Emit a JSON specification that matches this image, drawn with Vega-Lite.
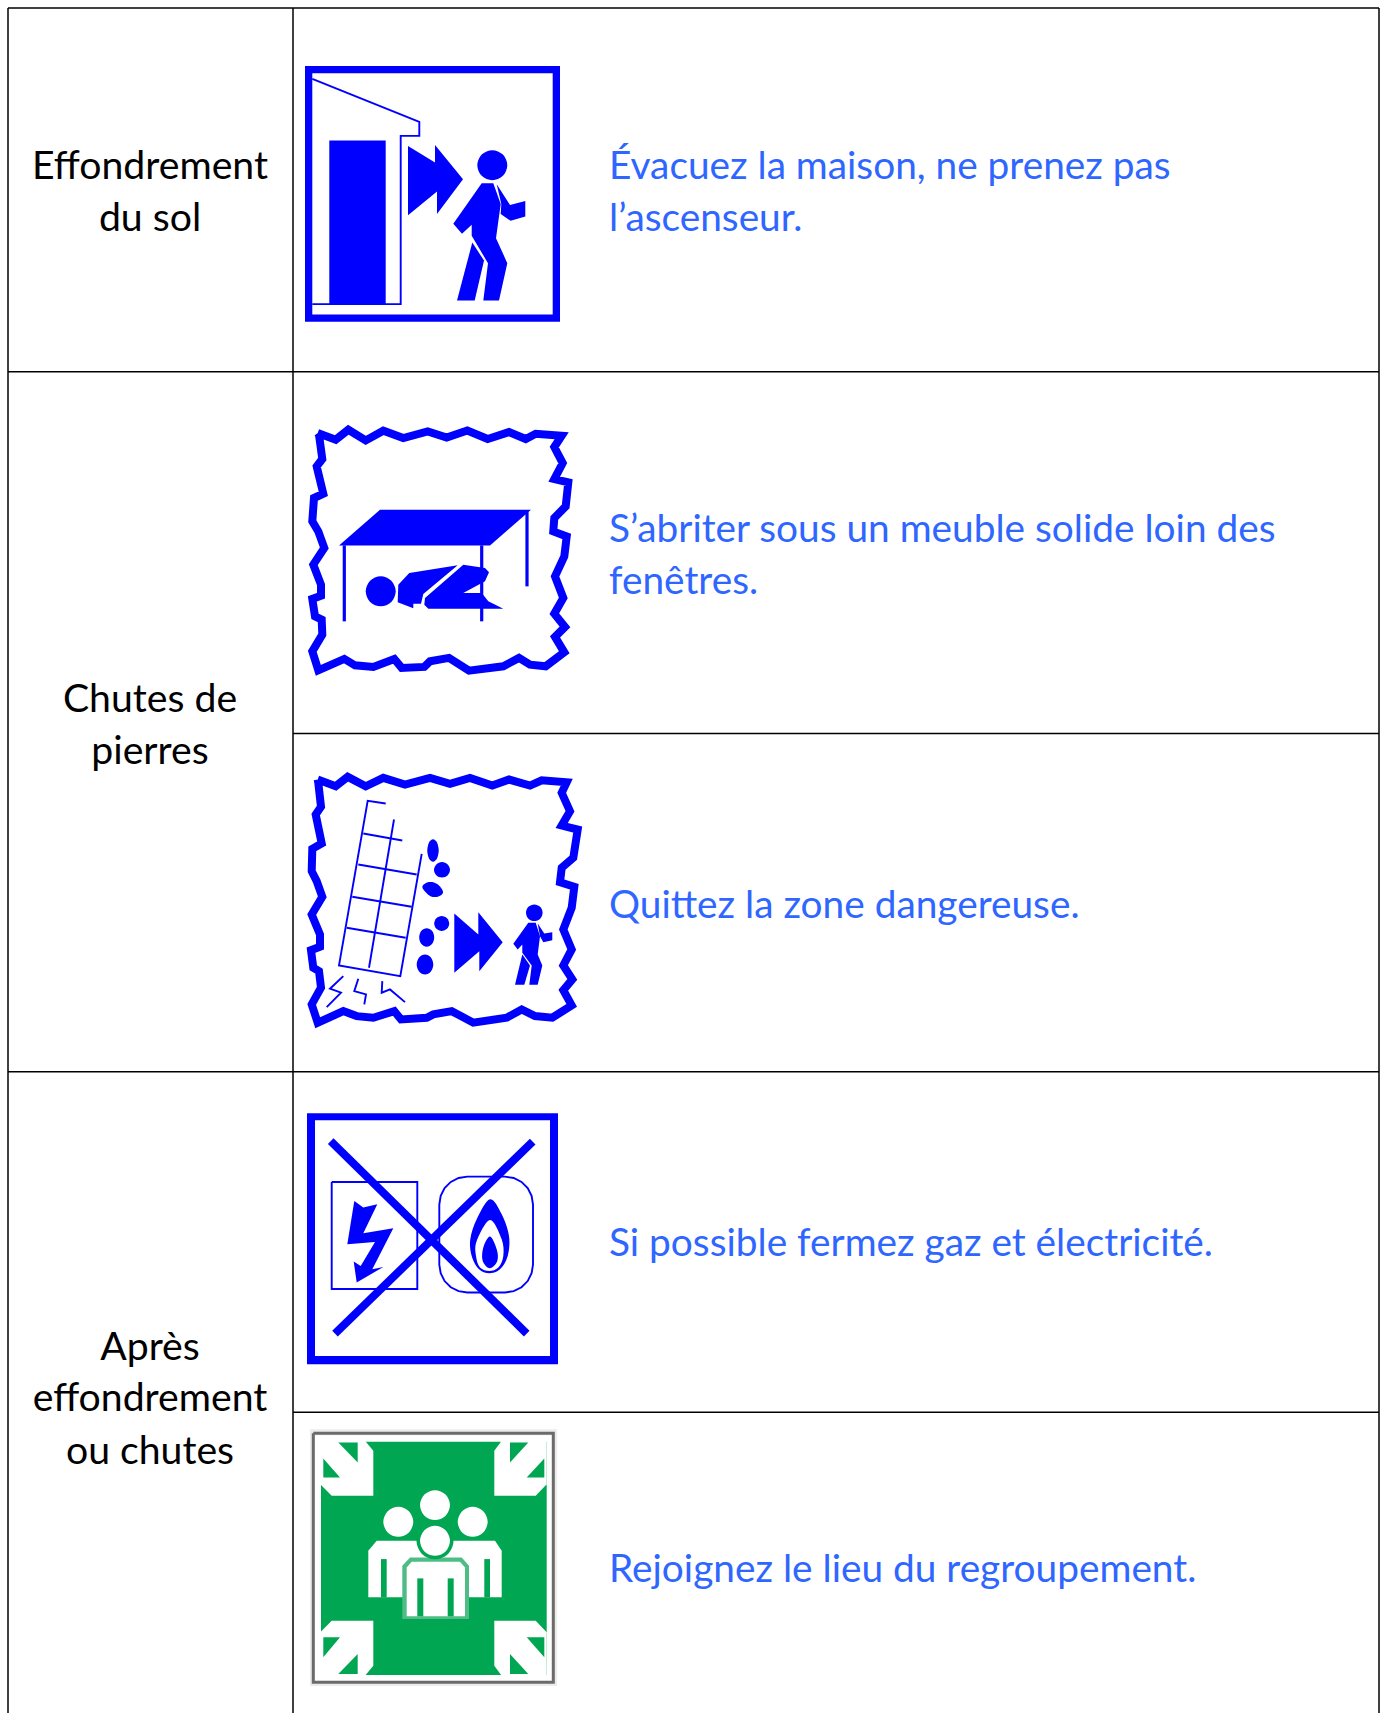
{
"$schema":"https://vega.github.io/schema/vega-lite/v6.json",
"width":1383,"height":1714,"autosize":{"type":"fit","contains":"padding"},"padding":0,
"background":"white","config":{"view":{"stroke":null}},
"datasets":{
"grid":[
{"x":8,"x2":1379,"y":8,"y2":8},{"x":8,"x2":1379,"y":372,"y2":372},{"x":293,"x2":1379,"y":734,"y2":734},{"x":8,"x2":1379,"y":1072.5,"y2":1072.5},{"x":293,"x2":1379,"y":1413,"y2":1413},
{"x":8,"x2":8,"y":8,"y2":1714},{"x":293,"x2":293,"y":8,"y2":1714},{"x":1379,"x2":1379,"y":8,"y2":1714}],
"hazards":[
{"t":"Effondrement","x":150,"y":165},{"t":"du sol","x":150,"y":217},
{"t":"Chutes de","x":150,"y":698},{"t":"pierres","x":150,"y":750},
{"t":"Après","x":150,"y":1347},{"t":"effondrement","x":150,"y":1398},{"t":"ou chutes","x":150,"y":1451}],
"actions":[
{"t":"Évacuez la maison, ne prenez pas","x":609,"y":165},{"t":"l’ascenseur.","x":609,"y":217},
{"t":"S’abriter sous un meuble solide loin des","x":609,"y":528},{"t":"fenêtres.","x":609,"y":580},
{"t":"Quittez la zone dangereuse.","x":609,"y":904},
{"t":"Si possible fermez gaz et électricité.","x":609,"y":1243},
{"t":"Rejoignez le lieu du regroupement.","x":609,"y":1569}],
"fills":[
{"s":"f1o","c":"ink","x":305,"y":66},{"s":"f1o","c":"ink","x":560,"y":66},{"s":"f1o","c":"ink","x":560,"y":322},{"s":"f1o","c":"ink","x":305,"y":322},
{"s":"f1i","c":"paper","x":312.3,"y":73.3},{"s":"f1i","c":"paper","x":552.7,"y":73.3},{"s":"f1i","c":"paper","x":552.7,"y":314.7},{"s":"f1i","c":"paper","x":312.3,"y":314.7},
{"s":"door","c":"ink","x":329.3,"y":140.7},{"s":"door","c":"ink","x":385.7,"y":140.7},{"s":"door","c":"ink","x":385.7,"y":304.3},{"s":"door","c":"ink","x":329.3,"y":304.3},
{"s":"arr1","c":"ink","x":408,"y":146},{"s":"arr1","c":"ink","x":435,"y":162.7},{"s":"arr1","c":"ink","x":435,"y":145},{"s":"arr1","c":"ink","x":463,"y":179.3},{"s":"arr1","c":"ink","x":437,"y":214},{"s":"arr1","c":"ink","x":437,"y":191.7},{"s":"arr1","c":"ink","x":408,"y":215.3},
{"s":"body1","c":"ink","x":481.7,"y":183.3},{"s":"body1","c":"ink","x":493.3,"y":183.3},{"s":"body1","c":"ink","x":500.7,"y":204},{"s":"body1","c":"ink","x":496,"y":238.3},{"s":"body1","c":"ink","x":507.3,"y":263.3},{"s":"body1","c":"ink","x":499,"y":300.7},{"s":"body1","c":"ink","x":483.3,"y":300.7},{"s":"body1","c":"ink","x":488,"y":263.3},{"s":"body1","c":"ink","x":471.7,"y":236},{"s":"body1","c":"ink","x":471.7,"y":225},{"s":"body1","c":"ink","x":462,"y":234},{"s":"body1","c":"ink","x":453.3,"y":224},
{"s":"leg1","c":"ink","x":472.3,"y":242.7},{"s":"leg1","c":"ink","x":484,"y":260.7},{"s":"leg1","c":"ink","x":474.7,"y":300.7},{"s":"leg1","c":"ink","x":457,"y":300.7},
{"s":"arm1","c":"ink","x":496.7,"y":184.3},{"s":"arm1","c":"ink","x":510,"y":205},{"s":"arm1","c":"ink","x":525.3,"y":201},{"s":"arm1","c":"ink","x":525.3,"y":216.7},{"s":"arm1","c":"ink","x":510.7,"y":221},{"s":"arm1","c":"ink","x":500.7,"y":214},{"s":"arm1","c":"ink","x":501.3,"y":204},
{"s":"table","c":"ink","x":380,"y":510},{"s":"table","c":"ink","x":531,"y":510},{"s":"table","c":"ink","x":490,"y":545.7},{"s":"table","c":"ink","x":339,"y":545.7},
{"s":"up2","c":"ink","x":409.3,"y":573.3},{"s":"up2","c":"ink","x":457.7,"y":565.7},{"s":"up2","c":"ink","x":423.3,"y":594.3},{"s":"up2","c":"ink","x":421,"y":604},{"s":"up2","c":"ink","x":413.3,"y":604},{"s":"up2","c":"ink","x":413.3,"y":608.7},{"s":"up2","c":"ink","x":397.7,"y":602.7},{"s":"up2","c":"ink","x":398.3,"y":585},
{"s":"lo2","c":"ink","x":463.3,"y":565},{"s":"lo2","c":"ink","x":485,"y":568.3},{"s":"lo2","c":"ink","x":489,"y":572.7},{"s":"lo2","c":"ink","x":485,"y":581.7},{"s":"lo2","c":"ink","x":463.3,"y":593.3},{"s":"lo2","c":"ink","x":481.7,"y":593.3},{"s":"lo2","c":"ink","x":488.3,"y":601.7},{"s":"lo2","c":"ink","x":503.3,"y":609},{"s":"lo2","c":"ink","x":428.3,"y":609},{"s":"lo2","c":"ink","x":424.3,"y":605},{"s":"lo2","c":"ink","x":425,"y":598.3},
{"s":"arr3","c":"ink","x":454.3,"y":914},{"s":"arr3","c":"ink","x":478.3,"y":935},{"s":"arr3","c":"ink","x":478.3,"y":912.7},{"s":"arr3","c":"ink","x":502.7,"y":942.7},{"s":"arr3","c":"ink","x":479.3,"y":971.7},{"s":"arr3","c":"ink","x":479.3,"y":951.7},{"s":"arr3","c":"ink","x":454.3,"y":973.3},
{"s":"body3","c":"ink","x":528.3,"y":923.3},{"s":"body3","c":"ink","x":535.7,"y":923.3},{"s":"body3","c":"ink","x":540,"y":936.7},{"s":"body3","c":"ink","x":537.7,"y":955},{"s":"body3","c":"ink","x":542.3,"y":966},{"s":"body3","c":"ink","x":537.7,"y":985.3},{"s":"body3","c":"ink","x":529.3,"y":985.3},{"s":"body3","c":"ink","x":531.7,"y":966},{"s":"body3","c":"ink","x":522.3,"y":953.3},{"s":"body3","c":"ink","x":522.3,"y":945},{"s":"body3","c":"ink","x":517.7,"y":950},{"s":"body3","c":"ink","x":513.3,"y":944.3},
{"s":"leg3","c":"ink","x":522.3,"y":955},{"s":"leg3","c":"ink","x":530,"y":966},{"s":"leg3","c":"ink","x":524.3,"y":985.3},{"s":"leg3","c":"ink","x":515,"y":985.3},
{"s":"arm3","c":"ink","x":537.7,"y":924},{"s":"arm3","c":"ink","x":544.3,"y":934},{"s":"arm3","c":"ink","x":552.3,"y":932.7},{"s":"arm3","c":"ink","x":552.3,"y":940.7},{"s":"arm3","c":"ink","x":543.3,"y":942.7},{"s":"arm3","c":"ink","x":540,"y":936.7},
{"s":"f4o","c":"ink","x":307,"y":1114},{"s":"f4o","c":"ink","x":558,"y":1114},{"s":"f4o","c":"ink","x":558,"y":1365},{"s":"f4o","c":"ink","x":307,"y":1365},
{"s":"f4i","c":"paper","x":315,"y":1121},{"s":"f4i","c":"paper","x":550,"y":1121},{"s":"f4i","c":"paper","x":550,"y":1356.7},{"s":"f4i","c":"paper","x":315,"y":1356.7},
{"s":"bolt","c":"ink","x":354.3,"y":1201.7},{"s":"bolt","c":"ink","x":363.3,"y":1208.3},{"s":"bolt","c":"ink","x":377.3,"y":1205},{"s":"bolt","c":"ink","x":363.3,"y":1234},{"s":"bolt","c":"ink","x":393.3,"y":1229},{"s":"bolt","c":"ink","x":372.3,"y":1270},{"s":"bolt","c":"ink","x":383.3,"y":1267.7},{"s":"bolt","c":"ink","x":356.7,"y":1283.3},{"s":"bolt","c":"ink","x":353.7,"y":1262.3},{"s":"bolt","c":"ink","x":360.7,"y":1266.7},{"s":"bolt","c":"ink","x":375,"y":1242.7},{"s":"bolt","c":"ink","x":347.3,"y":1245},
{"s":"halo","c":"halo","x":310,"y":1430},{"s":"halo","c":"halo","x":557,"y":1430},{"s":"halo","c":"halo","x":557,"y":1687},{"s":"halo","c":"halo","x":310,"y":1687},
{"s":"pad","c":"paper","x":315,"y":1436},{"s":"pad","c":"paper","x":552,"y":1436},{"s":"pad","c":"paper","x":552,"y":1682},{"s":"pad","c":"paper","x":315,"y":1682},
{"s":"green","c":"sign","x":321,"y":1442.7},{"s":"green","c":"sign","x":546.7,"y":1442.7},{"s":"green","c":"sign","x":546.7,"y":1676},{"s":"green","c":"sign","x":321,"y":1676},
{"s":"tl","c":"paper","x":320,"y":1441.7},{"s":"tl","c":"paper","x":365,"y":1441.7},{"s":"tl","c":"paper","x":373.3,"y":1451.7},{"s":"tl","c":"paper","x":373.3,"y":1496.7},{"s":"tl","c":"paper","x":331.7,"y":1496.7},{"s":"tl","c":"paper","x":320.3,"y":1485},
{"s":"tr","c":"paper","x":546.7,"y":1441.7},{"s":"tr","c":"paper","x":501.7,"y":1441.7},{"s":"tr","c":"paper","x":494.3,"y":1451.7},{"s":"tr","c":"paper","x":494.3,"y":1496.7},{"s":"tr","c":"paper","x":535.7,"y":1496.7},{"s":"tr","c":"paper","x":546.7,"y":1485},
{"s":"bl","c":"paper","x":320,"y":1676.7},{"s":"bl","c":"paper","x":365,"y":1676.7},{"s":"bl","c":"paper","x":373.3,"y":1666.7},{"s":"bl","c":"paper","x":373.3,"y":1621.7},{"s":"bl","c":"paper","x":331.7,"y":1621.7},{"s":"bl","c":"paper","x":320.3,"y":1633.3},
{"s":"br","c":"paper","x":546.7,"y":1676.7},{"s":"br","c":"paper","x":501.7,"y":1676.7},{"s":"br","c":"paper","x":494.3,"y":1666.7},{"s":"br","c":"paper","x":494.3,"y":1621.7},{"s":"br","c":"paper","x":535.7,"y":1621.7},{"s":"br","c":"paper","x":546.7,"y":1633.3},
{"s":"t1","c":"sign","x":338.3,"y":1443.3},{"s":"t1","c":"sign","x":357.7,"y":1443.3},{"s":"t1","c":"sign","x":357.7,"y":1463.3},
{"s":"t2","c":"sign","x":323.3,"y":1459.3},{"s":"t2","c":"sign","x":340,"y":1478.3},{"s":"t2","c":"sign","x":323.3,"y":1478.3},
{"s":"t3","c":"sign","x":528.3,"y":1443.3},{"s":"t3","c":"sign","x":510,"y":1443.3},{"s":"t3","c":"sign","x":510,"y":1463.3},
{"s":"t4","c":"sign","x":544.3,"y":1459.3},{"s":"t4","c":"sign","x":526.7,"y":1478.3},{"s":"t4","c":"sign","x":544.3,"y":1478.3},
{"s":"t5","c":"sign","x":338.3,"y":1675},{"s":"t5","c":"sign","x":357.7,"y":1675},{"s":"t5","c":"sign","x":357.7,"y":1655},
{"s":"t6","c":"sign","x":323.3,"y":1658.3},{"s":"t6","c":"sign","x":340,"y":1638.3},{"s":"t6","c":"sign","x":323.3,"y":1638.3},
{"s":"t7","c":"sign","x":528.3,"y":1675},{"s":"t7","c":"sign","x":510,"y":1675},{"s":"t7","c":"sign","x":510,"y":1655},
{"s":"t8","c":"sign","x":544.3,"y":1658.3},{"s":"t8","c":"sign","x":526.7,"y":1638.3},{"s":"t8","c":"sign","x":544.3,"y":1638.3},
{"s":"back","c":"paper","x":368.3,"y":1598.3},{"s":"back","c":"paper","x":368.3,"y":1551.7},{"s":"back","c":"paper","x":376.7,"y":1541.7},{"s":"back","c":"paper","x":495,"y":1541.7},{"s":"back","c":"paper","x":501.7,"y":1551.7},{"s":"back","c":"paper","x":501.7,"y":1598.3},
{"s":"st1","c":"sign","x":381,"y":1560},{"s":"st1","c":"sign","x":386.7,"y":1560},{"s":"st1","c":"sign","x":386.7,"y":1598.3},{"s":"st1","c":"sign","x":381,"y":1598.3},
{"s":"st2","c":"sign","x":484.3,"y":1560},{"s":"st2","c":"sign","x":490,"y":1560},{"s":"st2","c":"sign","x":490,"y":1598.3},{"s":"st2","c":"sign","x":484.3,"y":1598.3},
{"s":"frontg","c":"fringe","x":402.3,"y":1620},{"s":"frontg","c":"fringe","x":402.3,"y":1566.7},{"s":"frontg","c":"fringe","x":410,"y":1558.3},{"s":"frontg","c":"fringe","x":461.7,"y":1558.3},{"s":"frontg","c":"fringe","x":469,"y":1566.7},{"s":"frontg","c":"fringe","x":469,"y":1620},
{"s":"frontw","c":"paper","x":406.7,"y":1617.3},{"s":"frontw","c":"paper","x":406.7,"y":1568.3},{"s":"frontw","c":"paper","x":411.7,"y":1562.7},{"s":"frontw","c":"paper","x":460,"y":1562.7},{"s":"frontw","c":"paper","x":465,"y":1568.3},{"s":"frontw","c":"paper","x":465,"y":1617.3},
{"s":"st3","c":"sign","x":417.3,"y":1579.3},{"s":"st3","c":"sign","x":423.3,"y":1579.3},{"s":"st3","c":"sign","x":423.3,"y":1617.3},{"s":"st3","c":"sign","x":417.3,"y":1617.3},
{"s":"st4","c":"sign","x":447.7,"y":1579.3},{"s":"st4","c":"sign","x":453.7,"y":1579.3},{"s":"st4","c":"sign","x":453.7,"y":1617.3},{"s":"st4","c":"sign","x":447.7,"y":1617.3}
],
"smooth":[
{"s":"h1","c":"ink","x":507.3,"y":165.3},{"s":"h1","c":"ink","x":502.9,"y":175.9},{"s":"h1","c":"ink","x":492.3,"y":180.3},{"s":"h1","c":"ink","x":481.7,"y":175.9},{"s":"h1","c":"ink","x":477.3,"y":165.3},{"s":"h1","c":"ink","x":481.7,"y":154.7},{"s":"h1","c":"ink","x":492.3,"y":150.3},{"s":"h1","c":"ink","x":502.9,"y":154.7},
{"s":"h2","c":"ink","x":395.7,"y":591.7},{"s":"h2","c":"ink","x":391.3,"y":602.3},{"s":"h2","c":"ink","x":380.7,"y":606.7},{"s":"h2","c":"ink","x":370.1,"y":602.3},{"s":"h2","c":"ink","x":365.7,"y":591.7},{"s":"h2","c":"ink","x":370.1,"y":581.1},{"s":"h2","c":"ink","x":380.7,"y":576.7},{"s":"h2","c":"ink","x":391.3,"y":581.1},
{"s":"e1","c":"ink","x":438.7,"y":851},{"s":"e1","c":"ink","x":437,"y":859},{"s":"e1","c":"ink","x":433,"y":862.3},{"s":"e1","c":"ink","x":429,"y":859},{"s":"e1","c":"ink","x":427.3,"y":851},{"s":"e1","c":"ink","x":429,"y":843},{"s":"e1","c":"ink","x":433,"y":839.7},{"s":"e1","c":"ink","x":437,"y":843},
{"s":"e2","c":"ink","x":450,"y":870.3},{"s":"e2","c":"ink","x":447.7,"y":875.7},{"s":"e2","c":"ink","x":442,"y":878},{"s":"e2","c":"ink","x":436.3,"y":875.7},{"s":"e2","c":"ink","x":434,"y":870.3},{"s":"e2","c":"ink","x":436.3,"y":864.9},{"s":"e2","c":"ink","x":442,"y":862.6},{"s":"e2","c":"ink","x":447.7,"y":864.9},
{"s":"e3","c":"ink","x":443,"y":893},{"s":"e3","c":"ink","x":438.5,"y":897},{"s":"e3","c":"ink","x":431,"y":897},{"s":"e3","c":"ink","x":425,"y":892},{"s":"e3","c":"ink","x":422.4,"y":887},{"s":"e3","c":"ink","x":427,"y":883},{"s":"e3","c":"ink","x":434,"y":883},{"s":"e3","c":"ink","x":440,"y":887},
{"s":"e4","c":"ink","x":449.2,"y":924},{"s":"e4","c":"ink","x":447,"y":929.3},{"s":"e4","c":"ink","x":441.7,"y":931.5},{"s":"e4","c":"ink","x":436.4,"y":929.3},{"s":"e4","c":"ink","x":434.2,"y":924},{"s":"e4","c":"ink","x":436.4,"y":918.7},{"s":"e4","c":"ink","x":441.7,"y":916.5},{"s":"e4","c":"ink","x":447,"y":918.7},
{"s":"e5","c":"ink","x":434.2,"y":938},{"s":"e5","c":"ink","x":432,"y":944.6},{"s":"e5","c":"ink","x":426.7,"y":947.3},{"s":"e5","c":"ink","x":421.4,"y":944.6},{"s":"e5","c":"ink","x":419.2,"y":938},{"s":"e5","c":"ink","x":421.4,"y":931.4},{"s":"e5","c":"ink","x":426.7,"y":928.7},{"s":"e5","c":"ink","x":432,"y":931.4},
{"s":"e6","c":"ink","x":433.3,"y":965},{"s":"e6","c":"ink","x":430.9,"y":972},{"s":"e6","c":"ink","x":425,"y":975},{"s":"e6","c":"ink","x":419.1,"y":972},{"s":"e6","c":"ink","x":416.7,"y":965},{"s":"e6","c":"ink","x":419.1,"y":958},{"s":"e6","c":"ink","x":425,"y":955},{"s":"e6","c":"ink","x":430.9,"y":958},
{"s":"h3","c":"ink","x":542.6,"y":913.3},{"s":"h3","c":"ink","x":540.2,"y":919.2},{"s":"h3","c":"ink","x":534.3,"y":921.6},{"s":"h3","c":"ink","x":528.4,"y":919.2},{"s":"h3","c":"ink","x":526,"y":913.3},{"s":"h3","c":"ink","x":528.4,"y":907.4},{"s":"h3","c":"ink","x":534.3,"y":905},{"s":"h3","c":"ink","x":540.2,"y":907.4},
{"s":"fl1","c":"ink","x":490,"y":1200},{"s":"fl1","c":"ink","x":501.7,"y":1215},{"s":"fl1","c":"ink","x":509,"y":1236.7},{"s":"fl1","c":"ink","x":507.7,"y":1256.7},{"s":"fl1","c":"ink","x":500,"y":1270},{"s":"fl1","c":"ink","x":489.3,"y":1274},{"s":"fl1","c":"ink","x":479,"y":1270},{"s":"fl1","c":"ink","x":471.7,"y":1256.7},{"s":"fl1","c":"ink","x":470.3,"y":1240},{"s":"fl1","c":"ink","x":476.7,"y":1220},
{"s":"fl2","c":"paper","x":490,"y":1220.7},{"s":"fl2","c":"paper","x":501.7,"y":1240},{"s":"fl2","c":"paper","x":503.3,"y":1256.7},{"s":"fl2","c":"paper","x":498.3,"y":1268.3},{"s":"fl2","c":"paper","x":489.3,"y":1271.7},{"s":"fl2","c":"paper","x":480,"y":1268.3},{"s":"fl2","c":"paper","x":476,"y":1256.7},{"s":"fl2","c":"paper","x":476.7,"y":1241.7},
{"s":"fl3","c":"ink","x":490,"y":1237.3},{"s":"fl3","c":"ink","x":496.7,"y":1250},{"s":"fl3","c":"ink","x":497.3,"y":1261.7},{"s":"fl3","c":"ink","x":490,"y":1269},{"s":"fl3","c":"ink","x":482.7,"y":1261.7},{"s":"fl3","c":"ink","x":483.3,"y":1248.3},
{"s":"p1","c":"paper","x":450,"y":1506},{"s":"p1","c":"paper","x":445.6,"y":1516.6},{"s":"p1","c":"paper","x":435,"y":1521},{"s":"p1","c":"paper","x":424.4,"y":1516.6},{"s":"p1","c":"paper","x":420,"y":1506},{"s":"p1","c":"paper","x":424.4,"y":1495.4},{"s":"p1","c":"paper","x":435,"y":1491},{"s":"p1","c":"paper","x":445.6,"y":1495.4},
{"s":"p2","c":"paper","x":413.3,"y":1522.7},{"s":"p2","c":"paper","x":408.9,"y":1533.3},{"s":"p2","c":"paper","x":398.3,"y":1537.7},{"s":"p2","c":"paper","x":387.7,"y":1533.3},{"s":"p2","c":"paper","x":383.3,"y":1522.7},{"s":"p2","c":"paper","x":387.7,"y":1512.1},{"s":"p2","c":"paper","x":398.3,"y":1507.7},{"s":"p2","c":"paper","x":408.9,"y":1512.1},
{"s":"p3","c":"paper","x":487.7,"y":1522.7},{"s":"p3","c":"paper","x":483.3,"y":1533.3},{"s":"p3","c":"paper","x":472.7,"y":1537.7},{"s":"p3","c":"paper","x":462.1,"y":1533.3},{"s":"p3","c":"paper","x":457.7,"y":1522.7},{"s":"p3","c":"paper","x":462.1,"y":1512.1},{"s":"p3","c":"paper","x":472.7,"y":1507.7},{"s":"p3","c":"paper","x":483.3,"y":1512.1},
{"s":"ring","c":"sign","x":453.5,"y":1541.7},{"s":"ring","c":"sign","x":448.1,"y":1554.8},{"s":"ring","c":"sign","x":435,"y":1560.2},{"s":"ring","c":"sign","x":421.9,"y":1554.8},{"s":"ring","c":"sign","x":416.5,"y":1541.7},{"s":"ring","c":"sign","x":421.9,"y":1528.6},{"s":"ring","c":"sign","x":435,"y":1523.2},{"s":"ring","c":"sign","x":448.1,"y":1528.6},
{"s":"p4","c":"paper","x":450,"y":1541.7},{"s":"p4","c":"paper","x":445.6,"y":1552.3},{"s":"p4","c":"paper","x":435,"y":1556.7},{"s":"p4","c":"paper","x":424.4,"y":1552.3},{"s":"p4","c":"paper","x":420,"y":1541.7},{"s":"p4","c":"paper","x":424.4,"y":1531.1},{"s":"p4","c":"paper","x":435,"y":1526.7},{"s":"p4","c":"paper","x":445.6,"y":1531.1}
],
"thin":[
{"s":"roof","x":312.3,"y":79},{"s":"roof","x":419.3,"y":122},{"s":"roof","x":419.3,"y":136},{"s":"roof","x":400.7,"y":136},{"s":"roof","x":400.7,"y":304.3},{"s":"roof","x":312.3,"y":304.3},
{"s":"b1","x":385.7,"y":804},{"s":"b1","x":367.7,"y":801.3},{"s":"b1","x":339,"y":966},{"s":"b1","x":400.3,"y":976.7},{"s":"b1","x":421.7,"y":854.3},
{"s":"b2","x":394,"y":820},{"s":"b2","x":369,"y":968.3},
{"s":"b3","x":363.3,"y":834},{"s":"b3","x":402.3,"y":841},
{"s":"b4","x":358.3,"y":865},{"s":"b4","x":416.7,"y":875},
{"s":"b5","x":352.3,"y":897.3},{"s":"b5","x":411.7,"y":907.3},
{"s":"b6","x":346.7,"y":928.3},{"s":"b6","x":405.7,"y":938.3},
{"s":"c1","x":343.3,"y":976.7},{"s":"c1","x":330,"y":989.3},{"s":"c1","x":341,"y":993.3},{"s":"c1","x":326.7,"y":1007.7},
{"s":"c2","x":358.3,"y":979.3},{"s":"c2","x":354.3,"y":991.7},{"s":"c2","x":366,"y":995},{"s":"c2","x":364.3,"y":1005},
{"s":"c3","x":382.3,"y":981.7},{"s":"c3","x":381.7,"y":993.3},{"s":"c3","x":390,"y":990},{"s":"c3","x":405,"y":1002.7},
{"s":"box","x":331.7,"y":1182.7},{"s":"box","x":417.3,"y":1182.7},{"s":"box","x":417.3,"y":1289.7},{"s":"box","x":331.7,"y":1289.7},{"s":"box","x":331.7,"y":1182.7},
{"s":"rr","x":439.3,"y":1205.3},{"s":"rr","x":440.7,"y":1196.6},{"s":"rr","x":444.6,"y":1188.8},{"s":"rr","x":450.8,"y":1182.6},{"s":"rr","x":458.6,"y":1178.7},{"s":"rr","x":467.3,"y":1177.3},{"s":"rr","x":505,"y":1177.3},{"s":"rr","x":513.7,"y":1178.7},{"s":"rr","x":521.5,"y":1182.6},{"s":"rr","x":527.7,"y":1188.8},{"s":"rr","x":531.6,"y":1196.6},{"s":"rr","x":533,"y":1205.3},{"s":"rr","x":533,"y":1265.3},{"s":"rr","x":531.6,"y":1274},{"s":"rr","x":527.7,"y":1281.8},{"s":"rr","x":521.5,"y":1288},{"s":"rr","x":513.7,"y":1291.9},{"s":"rr","x":505,"y":1293.3},{"s":"rr","x":467.3,"y":1293.3},{"s":"rr","x":458.6,"y":1291.9},{"s":"rr","x":450.8,"y":1288},{"s":"rr","x":444.6,"y":1281.8},{"s":"rr","x":440.7,"y":1274},{"s":"rr","x":439.3,"y":1265.3},{"s":"rr","x":439.3,"y":1205.3}
],
"mid":[
{"s":"l1","x":344.3,"y":545.7},{"s":"l1","x":344.3,"y":621.7},
{"s":"l2","x":481.7,"y":545.7},{"s":"l2","x":481.7,"y":621.7},
{"s":"l3","x":527,"y":511.7},{"s":"l3","x":527,"y":586.7}
],
"thick":[
{"s":"j2","x":317.7,"y":433.3},{"s":"j2","x":335.7,"y":440},{"s":"j2","x":348.3,"y":430},{"s":"j2","x":365.7,"y":440.7},{"s":"j2","x":383.3,"y":431},{"s":"j2","x":403.3,"y":438.3},{"s":"j2","x":427.7,"y":431.7},{"s":"j2","x":446.7,"y":437.7},{"s":"j2","x":467.3,"y":430.7},{"s":"j2","x":487.7,"y":439.3},{"s":"j2","x":509,"y":432.3},{"s":"j2","x":525.7,"y":439.3},{"s":"j2","x":535.7,"y":434},{"s":"j2","x":561.7,"y":436},{"s":"j2","x":554.3,"y":447.3},{"s":"j2","x":562.7,"y":463.3},{"s":"j2","x":554.3,"y":479.3},{"s":"j2","x":568.3,"y":482.7},{"s":"j2","x":565.7,"y":506.7},{"s":"j2","x":554.3,"y":518.3},{"s":"j2","x":553.3,"y":531.7},{"s":"j2","x":566.7,"y":536.7},{"s":"j2","x":564.3,"y":556.7},{"s":"j2","x":555,"y":576.7},{"s":"j2","x":563.3,"y":598.3},{"s":"j2","x":554.3,"y":614},{"s":"j2","x":565,"y":627.3},{"s":"j2","x":555,"y":637.3},{"s":"j2","x":564.3,"y":652.7},{"s":"j2","x":545.7,"y":666.7},{"s":"j2","x":530,"y":665},{"s":"j2","x":519,"y":658.3},{"s":"j2","x":503.3,"y":666.7},{"s":"j2","x":469,"y":671},{"s":"j2","x":449,"y":658.3},{"s":"j2","x":430,"y":661.7},{"s":"j2","x":424.3,"y":667.3},{"s":"j2","x":401.7,"y":668.3},{"s":"j2","x":394.3,"y":659.3},{"s":"j2","x":373.3,"y":667.3},{"s":"j2","x":355,"y":665.7},{"s":"j2","x":344.3,"y":659.3},{"s":"j2","x":318.3,"y":670.7},{"s":"j2","x":312.3,"y":651.7},{"s":"j2","x":322.3,"y":635},{"s":"j2","x":321.7,"y":620},{"s":"j2","x":315,"y":616.7},{"s":"j2","x":312.3,"y":599.3},{"s":"j2","x":321,"y":596},{"s":"j2","x":321,"y":585},{"s":"j2","x":313.3,"y":565},{"s":"j2","x":324.3,"y":548.3},{"s":"j2","x":318.3,"y":531.7},{"s":"j2","x":312.3,"y":521.7},{"s":"j2","x":314,"y":498.3},{"s":"j2","x":323.3,"y":494},{"s":"j2","x":316.7,"y":466.7},{"s":"j2","x":322.3,"y":459.3},{"s":"j2","x":319,"y":435},{"s":"j2","x":317.7,"y":433.3},
{"s":"j3","x":317.7,"y":780},{"s":"j3","x":335.7,"y":786.7},{"s":"j3","x":347.7,"y":777.3},{"s":"j3","x":365.7,"y":786.7},{"s":"j3","x":383.3,"y":778.3},{"s":"j3","x":405,"y":785},{"s":"j3","x":430,"y":778.3},{"s":"j3","x":450,"y":784.3},{"s":"j3","x":470,"y":778.3},{"s":"j3","x":492.3,"y":786},{"s":"j3","x":509,"y":780},{"s":"j3","x":530,"y":786},{"s":"j3","x":541.7,"y":780.7},{"s":"j3","x":566.7,"y":782.7},{"s":"j3","x":561.7,"y":793.3},{"s":"j3","x":570,"y":811.7},{"s":"j3","x":561.7,"y":826},{"s":"j3","x":577.7,"y":830},{"s":"j3","x":573.3,"y":858.3},{"s":"j3","x":561.7,"y":868.3},{"s":"j3","x":560,"y":882.7},{"s":"j3","x":574.3,"y":887.3},{"s":"j3","x":571.7,"y":908.3},{"s":"j3","x":563.3,"y":930},{"s":"j3","x":571.7,"y":950},{"s":"j3","x":563.3,"y":966},{"s":"j3","x":572.3,"y":980},{"s":"j3","x":563.3,"y":990.7},{"s":"j3","x":571.7,"y":1006},{"s":"j3","x":552.3,"y":1018.3},{"s":"j3","x":535,"y":1016.7},{"s":"j3","x":521.7,"y":1010},{"s":"j3","x":506.7,"y":1018.3},{"s":"j3","x":473.3,"y":1023.3},{"s":"j3","x":451.7,"y":1011.7},{"s":"j3","x":433.3,"y":1015},{"s":"j3","x":426.7,"y":1018.3},{"s":"j3","x":401,"y":1020},{"s":"j3","x":394.3,"y":1011.7},{"s":"j3","x":373.3,"y":1018.3},{"s":"j3","x":356.7,"y":1016.7},{"s":"j3","x":343.3,"y":1011.7},{"s":"j3","x":317.7,"y":1023.3},{"s":"j3","x":311.7,"y":1005},{"s":"j3","x":321,"y":988.3},{"s":"j3","x":319,"y":971.7},{"s":"j3","x":313.3,"y":968.3},{"s":"j3","x":311,"y":950.7},{"s":"j3","x":320,"y":947.3},{"s":"j3","x":320,"y":935},{"s":"j3","x":311.7,"y":915},{"s":"j3","x":322.3,"y":897.3},{"s":"j3","x":316.7,"y":881.7},{"s":"j3","x":311.7,"y":871.7},{"s":"j3","x":312.3,"y":849.3},{"s":"j3","x":321.7,"y":844},{"s":"j3","x":315.7,"y":815},{"s":"j3","x":321,"y":807.3},{"s":"j3","x":318.3,"y":783.3},{"s":"j3","x":317.7,"y":780},
{"s":"x1","x":330.7,"y":1141.7},{"s":"x1","x":526.7,"y":1334.3},
{"s":"x2","x":532.7,"y":1142.3},{"s":"x2","x":335,"y":1334.3}
],
"edge":[
{"s":"gf","x":313.3,"y":1434},{"s":"gf","x":553.3,"y":1434},{"s":"gf","x":553.3,"y":1683.3},{"s":"gf","x":313.3,"y":1683.3},{"s":"gf","x":313.3,"y":1434}
]
},
"layer":[
{"data":{"name":"grid"},"mark":{"type":"rule","color":"#000000","strokeWidth":1.5},
 "encoding":{"x":{"field":"x","type":"quantitative","scale":{"domain":[0,1383]},"axis":null},"x2":{"field":"x2"},"y":{"field":"y","type":"quantitative","scale":{"domain":[0,1714],"reverse":true},"axis":null},"y2":{"field":"y2"}}},
{"data":{"name":"fills"},"mark":{"type":"line","filled":true,"strokeWidth":0},
 "encoding":{"x":{"field":"x","type":"quantitative","scale":{"domain":[0,1383]},"axis":null},"y":{"field":"y","type":"quantitative","scale":{"domain":[0,1714],"reverse":true},"axis":null},"detail":{"field":"s"},"order":{"value":null},
 "color":{"field":"c","type":"nominal","legend":null,"scale":{"domain":["ink","paper","sign","halo","fringe"],"range":["#0000ff","#ffffff","#00a651","#ececec","#4dbd85"]}}}},
{"data":{"name":"smooth"},"mark":{"type":"line","filled":true,"strokeWidth":0,"interpolate":"cardinal-closed"},
 "encoding":{"x":{"field":"x","type":"quantitative","scale":{"domain":[0,1383]},"axis":null},"y":{"field":"y","type":"quantitative","scale":{"domain":[0,1714],"reverse":true},"axis":null},"detail":{"field":"s"},"order":{"value":null},
 "color":{"field":"c","type":"nominal","legend":null,"scale":{"domain":["ink","paper","sign","halo","fringe"],"range":["#0000ff","#ffffff","#00a651","#ececec","#4dbd85"]}}}},
{"data":{"name":"thin"},"mark":{"type":"line","color":"#0000ff","strokeWidth":1.9,"strokeJoin":"miter"},
 "encoding":{"x":{"field":"x","type":"quantitative","scale":{"domain":[0,1383]},"axis":null},"y":{"field":"y","type":"quantitative","scale":{"domain":[0,1714],"reverse":true},"axis":null},"detail":{"field":"s"},"order":{"value":null}}},
{"data":{"name":"mid"},"mark":{"type":"line","color":"#0000ff","strokeWidth":3.2},
 "encoding":{"x":{"field":"x","type":"quantitative","scale":{"domain":[0,1383]},"axis":null},"y":{"field":"y","type":"quantitative","scale":{"domain":[0,1714],"reverse":true},"axis":null},"detail":{"field":"s"},"order":{"value":null}}},
{"data":{"name":"thick"},"mark":{"type":"line","color":"#0000ff","strokeWidth":8,"strokeJoin":"miter","strokeMiterLimit":6},
 "encoding":{"x":{"field":"x","type":"quantitative","scale":{"domain":[0,1383]},"axis":null},"y":{"field":"y","type":"quantitative","scale":{"domain":[0,1714],"reverse":true},"axis":null},"detail":{"field":"s"},"order":{"value":null}}},
{"data":{"name":"edge"},"mark":{"type":"line","color":"#6d6a6a","strokeWidth":3,"strokeJoin":"miter"},
 "encoding":{"x":{"field":"x","type":"quantitative","scale":{"domain":[0,1383]},"axis":null},"y":{"field":"y","type":"quantitative","scale":{"domain":[0,1714],"reverse":true},"axis":null},"detail":{"field":"s"},"order":{"value":null}}},
{"data":{"name":"hazards"},"mark":{"type":"text","font":"Lato","fontSize":39.2,"align":"center","baseline":"middle","dy":2.2,"color":"#000000"},
 "encoding":{"x":{"field":"x","type":"quantitative","scale":{"domain":[0,1383]},"axis":null},"y":{"field":"y","type":"quantitative","scale":{"domain":[0,1714],"reverse":true},"axis":null},"text":{"field":"t"}}},
{"data":{"name":"actions"},"mark":{"type":"text","font":"Lato","fontSize":38.8,"align":"left","baseline":"middle","dy":2.2,"color":"#2e66ff"},
 "encoding":{"x":{"field":"x","type":"quantitative","scale":{"domain":[0,1383]},"axis":null},"y":{"field":"y","type":"quantitative","scale":{"domain":[0,1714],"reverse":true},"axis":null},"text":{"field":"t"}}}
]
}
